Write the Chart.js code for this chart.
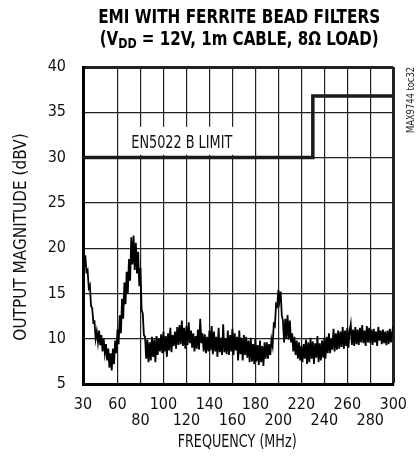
<!DOCTYPE html>
<html>
<head>
<meta charset="utf-8">
<script src="https://cdn.jsdelivr.net/npm/chart.js@4.4.0/dist/chart.umd.min.js"></script>
<style>
  html, body { margin: 0; padding: 0; background: #fff; }
  #wrap { width: 419px; height: 461px; }
</style>
</head>
<body>
<div id="wrap"><canvas id="chart-emi"></canvas></div>
<script>
var FONT = "'Liberation Sans Narrow', 'DejaVu Sans Condensed', 'Roboto Condensed', Roboto, sans-serif";

// spectrum trace, one reading per MHz starting at 30 MHz
var freqStart = 30;
var freqStep = 1;
var emiDbv = [
  19.8, 18.0, 19.2, 17.4, 17.6, 15.6, 15.9, 13.6, 13.4, 11.8,
  11.9, 10.0, 10.8, 9.6, 10.9, 9.3, 10.4, 8.6, 10.0, 8.4,
  9.4, 7.6, 8.9, 6.8, 8.4, 6.5, 8.9, 7.2, 9.8, 8.4,
  11.0, 9.4, 12.6, 10.6, 14.4, 12.2, 16.2, 13.8, 17.4, 15.0,
  18.8, 16.4, 21.2, 18.2, 21.4, 17.6, 20.6, 17.2, 19.6, 15.8,
  17.8, 13.2, 12.8, 10.4, 10.2, 7.8, 9.9, 7.4, 9.6, 7.6,
  10.2, 8.0, 9.9, 7.4, 10.3, 8.2, 10.0, 8.6, 10.5, 8.4,
  10.8, 8.6, 10.3, 8.0, 10.6, 8.7, 11.2, 8.5, 10.4, 9.2,
  10.8, 8.9, 11.3, 9.3, 11.5, 9.4, 12.0, 9.2, 11.2, 8.9,
  11.4, 9.3, 11.8, 9.5, 10.9, 9.0, 10.6, 8.6, 10.3, 8.9,
  11.0, 8.8, 12.2, 9.5, 10.6, 8.6, 10.5, 8.4, 10.2, 8.6,
  10.9, 8.7, 11.4, 8.3, 10.8, 8.6, 10.2, 8.0, 11.2, 8.5,
  10.1, 8.2, 11.6, 8.5, 10.0, 8.3, 10.9, 8.2, 10.4, 8.6,
  11.1, 8.2, 10.6, 8.7, 10.2, 7.6, 10.9, 8.3, 10.1, 7.6,
  10.4, 8.2, 10.2, 7.9, 9.8, 7.4, 10.1, 7.5, 9.4, 7.2,
  10.0, 7.5, 9.3, 7.1, 9.8, 7.4, 9.2, 7.0, 9.6, 7.8,
  9.6, 7.8, 9.4, 8.2, 9.9, 9.2, 11.6, 11.4, 13.8, 13.6,
  15.4, 14.2, 15.2, 12.6, 12.0, 9.6, 12.2, 10.0, 12.6, 9.9,
  12.0, 9.6, 10.6, 8.6, 10.2, 8.2, 9.8, 7.8, 9.6, 7.6,
  9.2, 7.4, 9.4, 7.8, 9.9, 7.2, 9.6, 7.4, 10.1, 7.8,
  9.7, 7.2, 9.5, 7.9, 10.3, 7.4, 9.5, 7.6, 9.8, 7.9,
  10.1, 7.8, 10.2, 8.4, 10.6, 8.4, 10.0, 8.8, 11.1, 8.6,
  10.6, 8.8, 10.9, 8.9, 10.8, 9.1, 11.3, 8.9, 10.9, 9.2,
  11.2, 9.0, 10.8, 11.6, 9.3, 11.0, 9.2, 11.3, 9.4, 11.0,
  9.3, 11.2, 9.6, 11.5, 9.5, 10.9, 9.2, 11.4, 9.6, 11.2,
  9.5, 11.0, 9.3, 11.1, 9.6, 10.8, 9.2, 11.3, 9.8, 10.9,
  9.4, 11.0, 9.5, 10.8, 9.3, 10.9, 9.4, 11.1, 9.6, 10.7,
  11.4
];

// EN55022 class B limit
var limitFreq = [30, 230, 230, 300];
var limitDbv = [30, 30, 36.8, 36.8];

var xTicks = [30, 60, 80, 100, 120, 140, 160, 180, 200, 220, 240, 260, 280, 300];
var xTicksLow = [80, 120, 160, 200, 240, 280];

var emiPoints = emiDbv.map(function(v, i) { return { x: freqStart + i * freqStep, y: v }; });
var limitPoints = limitFreq.map(function(f, i) { return { x: f, y: limitDbv[i] }; });

// draw text squeezed to a given width (the original uses a condensed face)
function fitText(ctx, text, x, y, width, rot) {
  var w = ctx.measureText(text).width;
  ctx.save();
  ctx.translate(x, y);
  if (rot) ctx.rotate(rot);
  ctx.scale(Math.min(1, width / w), 1);
  ctx.fillText(text, 0, 0);
  ctx.restore();
}

var decorPlugin = {
  id: 'decor',
  beforeDatasetsDraw: function(chart) {
    var ctx = chart.ctx;
    var xs = chart.scales.x, ys = chart.scales.y;
    var bx0 = xs.getPixelForValue(63), bx1 = xs.getPixelForValue(163);
    var by0 = ys.getPixelForValue(33.4), by1 = ys.getPixelForValue(30.3);
    ctx.save();
    ctx.fillStyle = '#fff';
    ctx.fillRect(bx0, by0, bx1 - bx0, by1 - by0);
    ctx.fillStyle = '#111';
    ctx.font = '17px ' + FONT;
    ctx.textBaseline = 'alphabetic';
    ctx.textAlign = 'left';
    fitText(ctx, 'EN5022 B LIMIT', xs.getPixelForValue(72), ys.getPixelForValue(31.1), 101);
    ctx.restore();
  },
  afterDraw: function(chart) {
    var ctx = chart.ctx;
    var area = chart.chartArea;
    var cx = (area.left + area.right) / 2 + 1;
    ctx.save();
    ctx.fillStyle = '#000';
    ctx.textBaseline = 'middle';
    ctx.textAlign = 'center';

    // title line 1
    ctx.font = 'bold 19px ' + FONT;
    fitText(ctx, 'EMI WITH FERRITE BEAD FILTERS', cx, 18.5, 282);

    // title line 2 with subscript
    var parts = [
      { t: '(V', f: 'bold 19px ' + FONT, dy: 0 },
      { t: 'DD', f: 'bold 14px ' + FONT, dy: 4 },
      { t: ' = 12V, 1m CABLE, 8\u03A9 LOAD)', f: 'bold 19px ' + FONT, dy: 0 }
    ];
    var total = 0;
    parts.forEach(function(p) { ctx.font = p.f; p.w = ctx.measureText(p.t).width; total += p.w; });
    ctx.save();
    ctx.translate(cx - 279 / 2, 40);
    ctx.scale(279 / total, 1);
    ctx.textAlign = 'left';
    var px = 0;
    parts.forEach(function(p) { ctx.font = p.f; ctx.fillText(p.t, px, p.dy); px += p.w; });
    ctx.restore();

    // axis titles
    ctx.fillStyle = '#111';
    ctx.font = '17px ' + FONT;
    fitText(ctx, 'FREQUENCY (MHz)', cx - 2, 443, 119);
    fitText(ctx, 'OUTPUT MAGNITUDE (dBV)', 22, 237, 210, -Math.PI / 2);

    // side tag
    ctx.fillStyle = '#222';
    ctx.font = '10px ' + FONT;
    fitText(ctx, 'MAX9744 toc32', 411.5, 100, 66, -Math.PI / 2);
    ctx.restore();
  }
};

var ctx = document.getElementById('chart-emi').getContext('2d');

new Chart(ctx, {
  type: 'line',
  data: {
    datasets: [{
      label: 'EMI',
      data: emiPoints,
      borderColor: '#000',
      borderWidth: 1.8,
      pointRadius: 0,
      tension: 0,
      fill: false
    }, {
      label: 'Limit',
      data: limitPoints,
      borderColor: '#1a1a1a',
      borderWidth: 3.5,
      pointRadius: 0,
      tension: 0,
      fill: false
    }]
  },
  options: {
    responsive: true,
    maintainAspectRatio: false,
    animation: false,
    layout: { padding: { left: 12, right: 16, top: 67, bottom: 8 } },
    plugins: {
      legend: { display: false },
      tooltip: { enabled: false }
    },
    scales: {
      x: {
        type: 'linear',
        min: 30,
        max: 300,
        afterBuildTicks: function(scale) {
          scale.ticks = xTicks.map(function(v) { return { value: v }; });
        },
        afterFit: function(scale) { scale.height = 69; },
        grid: {
          color: '#222',
          lineWidth: function(c) { return c.tick && c.tick.value === 300 ? 3 : 1.2; },
          drawTicks: false
        },
        border: { display: true, width: 3, color: '#000' },
        ticks: {
          autoSkip: false,
          maxRotation: 0,
          minRotation: 0,
          padding: 12,
          color: '#111',
          font: { family: FONT, size: 16, lineHeight: 1.05 },
          callback: function(value) {
            return xTicksLow.indexOf(value) >= 0 ? ['', String(value)] : String(value);
          }
        }
      },
      y: {
        min: 5,
        max: 40,
        afterFit: function(scale) { scale.width = 71; },
        grid: {
          color: '#222',
          lineWidth: function(c) { return c.tick && c.tick.value === 40 ? 3 : 1.2; },
          drawTicks: false
        },
        border: { display: true, width: 3, color: '#000' },
        ticks: {
          stepSize: 5,
          padding: 17,
          color: '#111',
          font: { family: FONT, size: 16 }
        }
      }
    }
  },
  plugins: [decorPlugin]
});
</script>
</body>
</html>
